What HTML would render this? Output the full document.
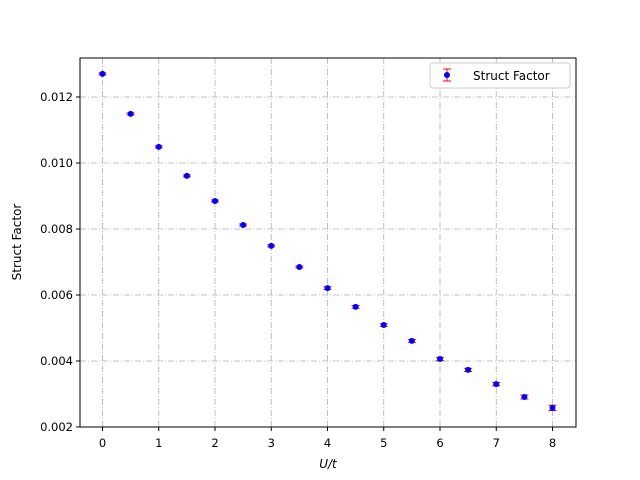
<!DOCTYPE html>
<html><head><meta charset="utf-8"><style>
body{margin:0;background:#fff}
svg{display:block;font-family:"DejaVu Sans","Liberation Sans",sans-serif}
</style></head><body>
<svg id="chart" width="640" height="480">
<rect width="640" height="480" fill="#fff"/>
<g id="grid"></g>
<g id="marks"></g>
<rect x="80" y="58" width="496" height="369" fill="none" stroke="#000" stroke-width="1"/>
<g id="axes"></g>
<text x="328" y="468" font-size="12" text-anchor="middle" font-style="italic">U/t</text>
<text transform="translate(21,242) rotate(-90)" font-size="12" text-anchor="middle">Struct Factor</text>
<g>
<rect x="430" y="63" width="140" height="25" rx="3" fill="#fff" stroke="#ccc"/>
<line x1="447" y1="69" x2="447" y2="81" stroke="red"/>
<line x1="443" y1="69" x2="451" y2="69" stroke="red"/>
<line x1="443" y1="81" x2="451" y2="81" stroke="red"/>
<circle cx="447" cy="75" r="3" fill="blue"/>
<text x="473" y="80" font-size="12">Struct Factor</text>
</g>
</svg>
<script>
const xs=[0,0.5,1,1.5,2,2.5,3,3.5,4,4.5,5,5.5,6,6.5,7,7.5,8];
const ys=[0.01270,0.01149,0.01049,0.00961,0.00885,0.00812,0.00749,0.00685,0.00621,0.00564,0.00509,0.00461,0.00406,0.00373,0.00330,0.00291,0.00258];
const errs=[0.00003,0.00003,0.00003,0.00003,0.00003,0.00003,0.00003,0.00003,0.00004,0.00004,0.00004,0.00004,0.00005,0.00005,0.00005,0.00006,0.00008];
const xTicks=[0,1,2,3,4,5,6,7,8];
const yTicks=[0.002,0.004,0.006,0.008,0.010,0.012];
const X=v=>80+(v+0.4)*56.25;
const Y=v=>427-(v-0.002)*33000;
const NS="http://www.w3.org/2000/svg";
function mk(p,t,a){const e=document.createElementNS(NS,t);for(const k in a)e.setAttribute(k,a[k]);document.getElementById(p).appendChild(e);return e;}
xTicks.forEach(t=>{
 const g=mk('grid','line',{x1:X(t),x2:X(t),y1:58,y2:427,stroke:'#b0b0b0','stroke-dasharray':'6,2,1,2','stroke-width':0.8});
 
 
 const k=mk('axes','line',{x1:X(t),x2:X(t),y1:427,y2:431,stroke:'#000'});
 
 
 const l=mk('axes','text',{x:X(t),y:447,'font-size':11.5,'text-anchor':'middle'});l.textContent=t;
 
 
});
yTicks.forEach(t=>{
 const g=mk('grid','line',{x1:80,x2:576,y1:Y(t),y2:Y(t),stroke:'#b0b0b0','stroke-dasharray':'6,2,1,2','stroke-width':0.8});
 
 
 const k=mk('axes','line',{x1:76,x2:80,y1:Y(t),y2:Y(t),stroke:'#000'});
 
 
 const l=mk('axes','text',{x:73,y:Y(t)+4,'font-size':11.5,'text-anchor':'end'});l.textContent=t.toFixed(3);
 
 
});
xs.forEach((x,i)=>{
 const cx=X(x),y1=Y(ys[i]+errs[i]),y2=Y(ys[i]-errs[i]);
 const e=mk('marks','path',{d:`M${cx},${y1}V${y2}M${cx-4},${y1}H${cx+4}M${cx-4},${y2}H${cx+4}`,stroke:'red',fill:'none'});
 
 
 const c=mk('marks','circle',{cx:cx,cy:Y(ys[i]),r:3,fill:'blue'});
 
 
});
</script>
</body></html>
